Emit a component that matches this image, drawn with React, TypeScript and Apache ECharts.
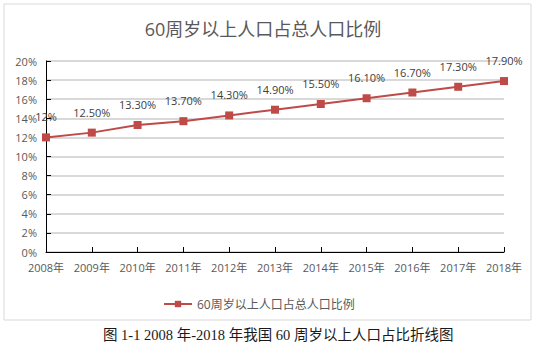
import React, { useEffect, useRef } from "react";
import * as echarts from "echarts";

const categories = ["2008年", "2009年", "2010年", "2011年", "2012年", "2013年", "2014年", "2015年", "2016年", "2017年", "2018年"];
const values = [12, 12.5, 13.3, 13.7, 14.3, 14.9, 15.5, 16.1, 16.7, 17.3, 17.9];
const labels = ["12%", "12.50%", "13.30%", "13.70%", "14.30%", "14.90%", "15.50%", "16.10%", "16.70%", "17.30%", "17.90%"];
const seriesName = "60周岁以上人口占总人口比例";
const titleText = "60周岁以上人口占总人口比例";
const captionText = "图 1-1 2008 年-2018 年我国 60 周岁以上人口占比折线图";

const FONT = "'Open Sans', 'Noto Sans CJK SC', sans-serif";

export default function App() {
  const ref = useRef<HTMLDivElement>(null);
  useEffect(() => {
    if (!ref.current) return;
    const chart = echarts.init(ref.current, undefined, { renderer: "svg" });
    chart.setOption({
      animation: false,
      backgroundColor: "#ffffff",
      title: {
        text: titleText,
        left: 258,
        textAlign: "center",
        top: 15,
        textStyle: { fontSize: 18, fontWeight: "normal", color: "#595959", fontFamily: FONT },
      },
      legend: {
        top: 293,
        left: 158,
        itemWidth: 28,
        itemHeight: 8,
        itemGap: 5,
        textStyle: { fontSize: 12, color: "#595959", fontFamily: FONT },
        data: [seriesName],
      },
      grid: { left: 46, right: 40, top: 61, bottom: 101, containLabel: false },
      xAxis: {
        type: "category",
        data: categories,
        boundaryGap: false,
        axisLine: { lineStyle: { color: "#000000", width: 1 } },
        axisTick: { inside: true, length: 5, interval: 0, lineStyle: { color: "#000000" } },
        axisLabel: { color: "#595959", fontSize: 11, margin: 10, interval: 0, hideOverlap: false, fontFamily: FONT },
      },
      yAxis: {
        type: "value",
        min: 0,
        max: 20,
        interval: 2,
        axisLine: { show: true, lineStyle: { color: "#000000", width: 1 } },
        axisTick: { show: true, inside: true, length: 5, lineStyle: { color: "#000000" } },
        axisLabel: { color: "#595959", fontSize: 11, margin: 9, formatter: "{value}%", fontFamily: FONT },
        splitLine: { lineStyle: { color: "#d9d9d9", width: 2 } },
      },
      series: [
        {
          name: seriesName,
          type: "line",
          data: values,
          symbol: "rect",
          symbolSize: 8,
          itemStyle: { color: "#be4b48" },
          lineStyle: { color: "#be4b48", width: 2 },
          label: {
            show: true,
            position: "top",
            distance: 11,
            fontSize: 11,
            color: "#404040",
            fontFamily: FONT,
            formatter: (p: any) => labels[p.dataIndex],
          },
        },
      ],
      graphic: [
        {
          type: "rect",
          shape: { x: 4, y: 4, width: 527, height: 316 },
          style: { fill: "none", stroke: "#d9d9d9", lineWidth: 1 },
          silent: true,
          z: -1,
        },
        {
          type: "text",
          left: 103,
          top: 328,
          style: { text: captionText, fontSize: 14.5, fill: "#1a1a1a", fontFamily: "'Liberation Serif', 'DejaVu Serif', 'Noto Sans CJK SC', serif" },
        },
      ],
    });
    return () => chart.dispose();
  }, []);
  return <div ref={ref} style={{ position: "fixed", left: 0, top: 0, width: 544, height: 353, background: "#fff" }} />;
}
